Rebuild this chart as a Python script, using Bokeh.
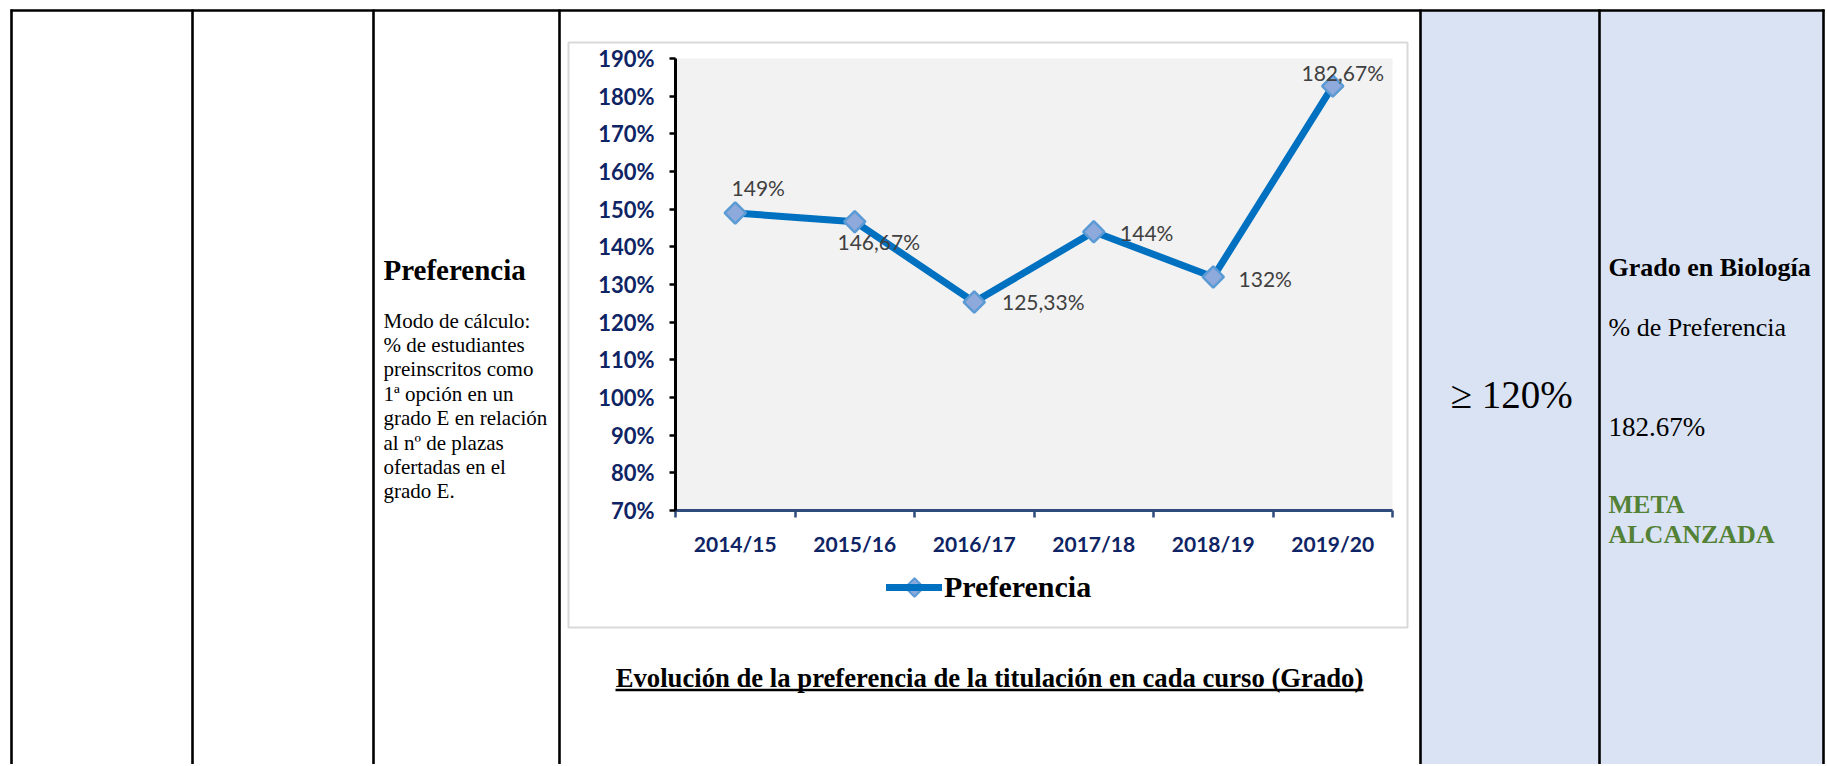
import numpy as np
from bokeh.plotting import figure
from bokeh.models import (Range1d, LinearAxis, FixedTicker, ColumnDataSource,
                          Legend, LegendItem, PrintfTickFormatter)
from bokeh.core.properties import value
from bokeh.embed import file_html
from bokeh.resources import INLINE

# ---------------- data ----------------
categories = ["2014/15", "2015/16", "2016/17", "2017/18", "2018/19", "2019/20"]
preferencia = [149.0, 146.67, 125.33, 144.0, 132.0, 182.67]
y_ticks = [70, 80, 90, 100, 110, 120, 130, 140, 150, 160, 170, 180, 190]
series_name = "Preferencia"
caption = "Evolución de la preferencia de la titulación en cada curso (Grado)"
indicator_title = "Preferencia"
indicator_desc = ["Modo de cálculo:", "% de estudiantes", "preinscritos como",
                  "1ª opción en un", "grado E en relación", "al nº de plazas",
                  "ofertadas en el", "grado E."]
target_text = "≥ 120%"
result_title = "Grado en Biología"
result_sub = "% de Preferencia"
result_value = "182.67%"
result_status = ["META", "ALCANZADA"]

# ---------------- layout constants (page pixels) ----------------
W, H = 1825, 764
PL, PR, PT, PB = 675, 1392, 58, 510          # chart plot area
YMIN, YMAX = y_ticks[0], y_ticks[-1]
n = len(categories)

# label offsets (screen px) relative to each point
lab_dx = [23, 24, 69, 53, 52, 10]
lab_dy = [-25, 20, -1, 1, 2, -14]

NAVY = "#0E2464"
SERIF_NAME = "Liberation Serif"
SANS_NAME = "Lato"
SERIF = value(SERIF_NAME)
SANS = value(SANS_NAME)

p = figure(width=W, height=H, x_range=Range1d(0, W), y_range=Range1d(H, 0),
           x_axis_type=None, y_axis_type=None, output_backend="svg",
           toolbar_location=None, min_border=0, outline_line_color=None,
           background_fill_color="white", border_fill_color="white")

# extra ranges mapping chart values to the plot area
ppu_y = (PB - PT) / (YMAX - YMIN)
pct_start = YMIN - (H - PB) / ppu_y
pct_end = YMAX + PT / ppu_y
ppu_x = (PR - PL) / n
cat_start = 0 - PL / ppu_x
cat_end = n + (W - PR) / ppu_x
p.extra_y_ranges = {"pct": Range1d(pct_start, pct_end)}
p.extra_x_ranges = {"cat": Range1d(cat_start, cat_end)}

# ---------------- table ----------------
p.quad(left=[1420], right=[1823], top=[10], bottom=[H], fill_color="#DAE3F3", line_color=None)
vx = [11, 192, 373, 559, 1420, 1599, 1823]
p.segment(x0=vx, y0=[9] * len(vx), x1=vx, y1=[H] * len(vx), line_color="black", line_width=2.6)
p.segment(x0=[10], y0=[10], x1=[1824], y1=[10], line_color="black", line_width=2.6)

# column 3 texts
p.text(x=[383], y=[269], text=[indicator_title], text_font=SERIF, text_font_style="bold",
       text_font_size="29px", text_baseline="middle", text_align="left", text_color="black")
desc_y = [320 + 24.4 * i for i in range(len(indicator_desc))]
p.text(x=[383] * len(indicator_desc), y=desc_y, text=indicator_desc, text_font=SERIF,
       text_font_size="21px", text_baseline="middle", text_align="left", text_color="black")

# column 5 / 6 texts
p.text(x=[1450], y=[394], text=[target_text], text_font=SERIF, text_font_size="39px",
       text_baseline="middle", text_align="left", text_color="black")
p.text(x=[1608], y=[267], text=[result_title], text_font=SERIF, text_font_style="bold",
       text_font_size="26px", text_baseline="middle", text_align="left", text_color="black")
p.text(x=[1608], y=[327], text=[result_sub], text_font=SERIF, text_font_size="26px",
       text_baseline="middle", text_align="left", text_color="black")
p.text(x=[1608], y=[426], text=[result_value], text_font=SERIF, text_font_size="27px",
       text_baseline="middle", text_align="left", text_color="black")
p.text(x=[1608, 1608], y=[504, 534], text=result_status, text_font=SERIF, text_font_style="bold",
       text_font_size="26px", text_baseline="middle", text_align="left", text_color="#538135")

# ---------------- chart ----------------
p.quad(left=[568], right=[1407], top=[42], bottom=[627], fill_color="white",
       line_color="#D9D9D9", line_width=2)
p.quad(left=[0], right=[n], bottom=[YMIN], top=[YMAX], x_range_name="cat", y_range_name="pct",
       fill_color="#F2F2F2", line_color=None)

xs = [i + 0.5 for i in range(n)]
labels = [("%g" % v).replace(".", ",") + "%" for v in preferencia]
src = ColumnDataSource(dict(x=xs, y=preferencia, lab=labels, dx=lab_dx, dy=lab_dy))

line_r = p.line("x", "y", source=src, x_range_name="cat", y_range_name="pct",
                line_color="#0070C0", line_width=7, line_join="round", line_cap="round")
scat_r = p.scatter("x", "y", source=src, x_range_name="cat", y_range_name="pct",
                   marker="square", angle=np.pi / 4, size=15,
                   fill_color="#8EA9DB", line_color="#5B9BD5", line_width=2.5)
p.text("x", "y", text="lab", source=src, x_range_name="cat", y_range_name="pct",
       x_offset="dx", y_offset="dy", text_font=SANS, text_font_size="21px",
       text_color="#404040", text_align="center", text_baseline="middle")

yaxis = LinearAxis(y_range_name="pct", fixed_location=PL, bounds=(YMIN, YMAX),
                   ticker=FixedTicker(ticks=y_ticks), formatter=PrintfTickFormatter(format="%d%%"),
                   axis_line_color="black", axis_line_width=3,
                   major_tick_line_color="black", major_tick_line_width=2.5,
                   major_tick_in=0, major_tick_out=6, minor_tick_line_color=None,
                   major_label_standoff=15, major_label_text_font=SANS_NAME,
                   major_label_text_font_style="bold", major_label_text_font_size="22px",
                   major_label_text_color=NAVY)
p.add_layout(yaxis, "left")

xaxis = LinearAxis(x_range_name="cat", fixed_location=PB, bounds=(0, n),
                   ticker=FixedTicker(ticks=list(range(n + 1))),
                   axis_line_color="#2F4B7C", axis_line_width=3,
                   major_tick_line_color="#2F4B7C", major_tick_line_width=2.5,
                   major_tick_in=0, major_tick_out=7, minor_tick_line_color=None,
                   major_label_text_color=None)
p.add_layout(xaxis, "below")

xlab = LinearAxis(x_range_name="cat", fixed_location=PB, bounds=(0, n),
                  ticker=FixedTicker(ticks=xs),
                  major_label_overrides={x: c for x, c in zip(xs, categories)},
                  axis_line_color=None, major_tick_line_color=None, minor_tick_line_color=None,
                  major_tick_in=0, major_tick_out=0, major_label_standoff=20,
                  major_label_text_font=SANS_NAME, major_label_text_font_style="bold",
                  major_label_text_font_size="21px", major_label_text_color=NAVY)
p.add_layout(xlab, "below")

# legend: line via Legend, diamond marker drawn on top at the legend glyph centre
GH = 36
LEG_X, LEG_Y, LEG_GW = 886, 587, 56
legend = Legend(items=[LegendItem(label=series_name, renderers=[line_r])],
                location=(LEG_X, H - GH - (LEG_Y - GH // 2)),
                glyph_width=LEG_GW, glyph_height=GH, padding=0, margin=0, spacing=0,
                label_standoff=2, border_line_color=None, background_fill_alpha=0,
                label_text_font=SERIF_NAME, label_text_font_style="bold",
                label_text_font_size="30px", label_text_color="black")
p.add_layout(legend)
p.scatter(x=[LEG_X + LEG_GW / 2], y=[LEG_Y], marker="square", angle=np.pi / 4, size=13,
          fill_color="#8EA9DB", line_color="#5B9BD5", line_width=2, level="overlay")

# caption (underlined)
p.text(x=[989], y=[677], text=[caption], text_font=SERIF, text_font_style="bold",
       text_font_size="26.7px", text_baseline="middle", text_align="center", text_color="black")
p.segment(x0=[615], y0=[689.5], x1=[1363], y1=[689.5], line_color="black", line_width=2.6)

open("out.html", "w").write(file_html(p, INLINE))
